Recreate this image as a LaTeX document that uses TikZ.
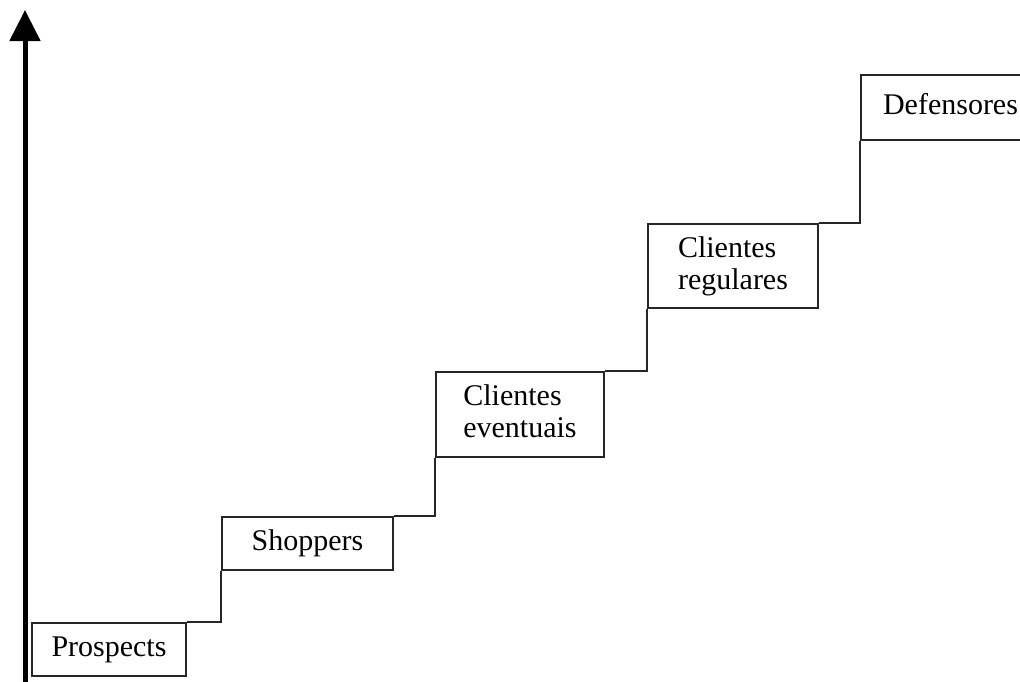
\documentclass[tikz,border=0pt]{standalone}
\usepackage{fontspec}
\setmainfont{Liberation Serif}
\usetikzlibrary{arrows.meta}
\begin{document}
\begin{tikzpicture}[x=1pt,y=-1pt,
  stepbox/.style={draw=black!85, line width=1.6pt, inner sep=0pt,
    font=\fontsize{30}{32}\selectfont, text height=20pt, text depth=6pt},
  twoline/.style={stepbox, align=left, text height=, text depth=},
  riser/.style={draw=black!85, line width=1.6pt},
  axis/.style={line width=5pt, -{Triangle[length=31pt,width=30pt]}}]
\useasboundingbox (0,0) rectangle (1020,681);
\clip (0,0) rectangle (1020,681);
\node[stepbox, minimum width=154pt, minimum height=53pt] (p) at (109,649.5) {Prospects};
\node[stepbox, minimum width=171pt, minimum height=53pt] (s) at (307.5,543.5) {Shoppers};
\node[twoline, minimum width=168pt, minimum height=85pt] (e) at (520,414.5) {Clientes\\eventuais\vphantom{g}};
\node[twoline, minimum width=170pt, minimum height=84pt] (r) at (733,266) {Clientes\\regulares};
\node[stepbox, minimum width=179pt, minimum height=65pt] (d) at (950.5,107.5) {Defensores};
\draw[riser] (p.north east) -| (s.south west);
\draw[riser] (s.north east) -| (e.south west);
\draw[riser] (e.north east) -| (r.south west);
\draw[riser] (r.north east) -| (d.south west);
\coordinate (axb) at (25,690);
\coordinate (axt) at (25,10);
\draw[axis] (axb) -- (axt);
\end{tikzpicture}
\end{document}
